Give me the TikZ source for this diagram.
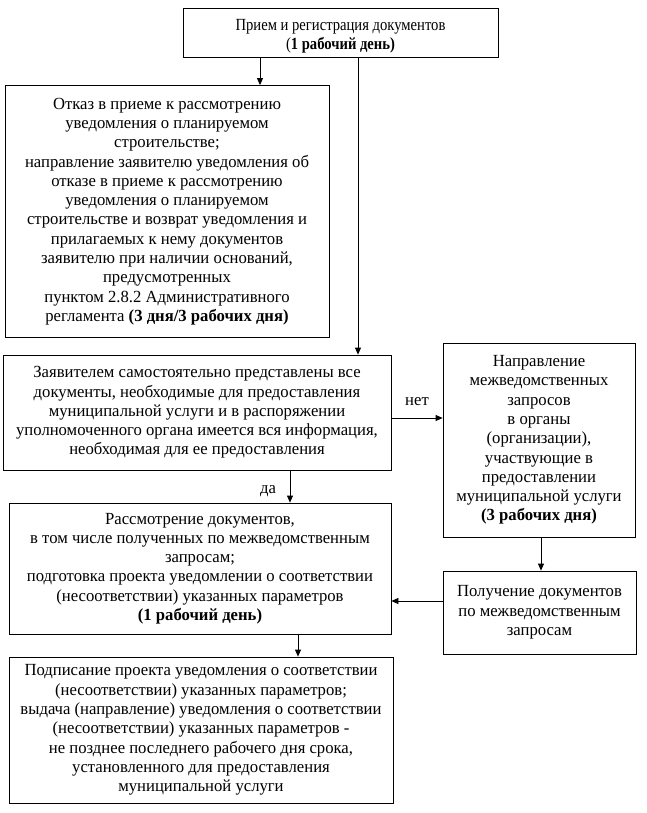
\documentclass[tikz,border=0pt]{standalone}
\usepackage{fontspec}
\setmainfont{Liberation Serif}[FakeStretch=0.98]
\newfontfamily\narrowfont{Liberation Serif}[FakeStretch=0.86]
\usetikzlibrary{arrows.meta}
\begin{document}
\begin{tikzpicture}[x=1pt,y=-1pt,
  box/.style={draw, line width=0.8pt, inner sep=0pt, align=center, font=\fontsize{17}{19.3}\selectfont},
  arr/.style={line width=0.8pt, -{Triangle[length=7pt,width=6pt]}},
  lbl/.style={font=\fontsize{17}{19.3}\selectfont, inner sep=0pt}]
\useasboundingbox (0,0) rectangle (647,813);
\node[box, minimum width=315pt, minimum height=49pt] (top) at (340.5,32.5) {};
\node[lbl, align=center, font=\narrowfont\fontsize{17}{19.3}\selectfont] (toptext) at (340.5,36)
 {Прием и регистрация документов\\(\textbf{1 рабочий день)}};
\node[box, minimum width=324pt, minimum height=252pt] (otkaz) at (167,211.5)
 {Отказ в приеме к рассмотрению\\уведомления о планируемом\\строительстве;\\направление заявителю уведомления об\\отказе в приеме к рассмотрению\\уведомления о планируемом\\строительстве и возврат уведомления и\\прилагаемых к нему документов\\заявителю при наличии оснований,\\предусмотренных\\пунктом 2.8.2 Административного\\регламента \textbf{(3 дня/3 рабочих дня)}};
\node[box, minimum width=388pt, minimum height=115pt] (check) at (197,412.5)
 {Заявителем самостоятельно представлены все\\документы, необходимые для предоставления\\муниципальной услуги и в распоряжении\\уполномоченного органа имеется вся информация,\\необходимая для ее предоставления};
\node[box, minimum width=192pt, minimum height=194pt] (mezh) at (539,440)
 {Направление\\межведомственных\\запросов\\в органы\\(организации),\\участвующие в\\предоставлении\\муниципальной услуги\\\textbf{(3 рабочих дня)}};
\node[box, minimum width=382pt, minimum height=131pt] (rass) at (200,568.5)
 {Рассмотрение документов,\\в том числе полученных по межведомственным\\запросам;\\подготовка проекта уведомлении о соответствии\\(несоответствии) указанных параметров\\\textbf{(1 рабочий день)}};
\node[box, minimum width=193pt, minimum height=83pt] (poluch) at (539.5,612.5)
 {Получение документов\\по межведомственным\\запросам};
\node[box, minimum width=384pt, minimum height=146pt] (podp) at (201,730)
 {Подписание проекта уведомления о соответствии\\(несоответствии) указанных параметров;\\выдача (направление) уведомления о соответствии\\(несоответствии) указанных параметров -\\не позднее последнего рабочего дня срока,\\установленного для предоставления\\муниципальной услуги};
\coordinate (xa) at (260,0);
\coordinate (xb) at (358,0);
\coordinate (xc) at (290,0);
\coordinate (xd) at (541,0);
\coordinate (xe) at (298,0);
\coordinate (ya) at (0,418);
\coordinate (yb) at (0,601);
\draw[arr] (top.south -| xa) -- (otkaz.north -| xa);
\draw[arr] (top.south -| xb) -- (check.north -| xb);
\draw[arr] (check.east |- ya) -- (mezh.west |- ya);
\draw[arr] (check.south -| xc) -- (rass.north -| xc);
\draw[arr] (mezh.south -| xd) -- (poluch.north -| xd);
\draw[arr] (poluch.west |- yb) -- (rass.east |- yb);
\draw[arr] (rass.south -| xe) -- (podp.north -| xe);
\node[lbl] (net) at (417,402) {нет};
\node[lbl] (da) at (268,491) {да};
\end{tikzpicture}
\end{document}
